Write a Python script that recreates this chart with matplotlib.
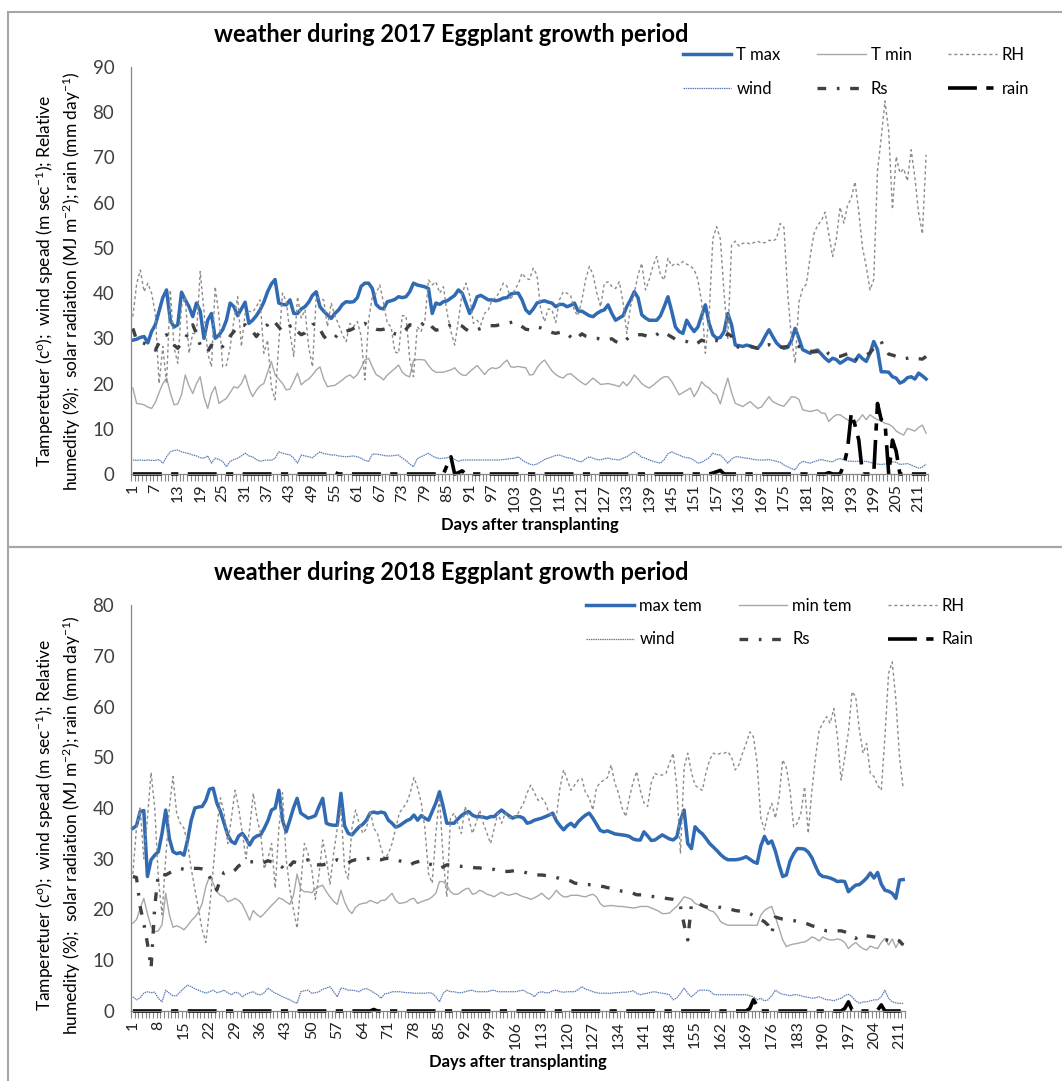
import numpy as np
import matplotlib
matplotlib.use("Agg")
import matplotlib.pyplot as plt
from matplotlib.patches import Rectangle
from matplotlib.lines import Line2D

plt.rcParams['font.family'] = ['Lato', 'DejaVu Sans']
plt.rcParams['mathtext.fontset'] = 'custom'
plt.rcParams['mathtext.rm'] = 'Lato'
plt.rcParams['mathtext.default'] = 'regular'

# ---------------- 2017 season (213 days) ----------------
TMAX_2017 = [
    29.6, 29.8, 30.2, 30.4, 29.0, 31.5, 33.0, 36.0, 39.0, 40.7,
    34.0, 32.5, 33.0, 40.2, 38.5, 37.0, 34.8, 37.8, 36.0, 30.0,
    34.0, 35.5, 30.0, 30.7, 31.9, 34.0, 37.8, 37.0, 35.0, 36.5,
    38.0, 33.3, 34.0, 35.0, 36.3, 38.0, 40.3, 42.0, 43.0, 37.8,
    37.5, 37.4, 38.5, 35.5, 35.5, 36.5, 37.0, 38.0, 39.5, 40.3,
    37.0, 36.0, 35.2, 34.4, 35.5, 36.3, 37.5, 38.1, 38.0, 38.1,
    39.0, 41.5, 42.2, 42.2, 41.0, 37.5, 36.7, 36.5, 38.1, 38.3,
    38.6, 39.2, 39.0, 39.2, 40.3, 42.2, 41.8, 41.6, 41.4, 41.0,
    35.5, 37.8, 37.5, 38.1, 38.3, 38.9, 39.5, 40.7, 40.0, 37.8,
    35.5, 37.0, 39.2, 39.5, 39.0, 38.5, 38.5, 38.3, 38.5, 38.9,
    39.0, 39.8, 40.0, 40.0, 38.5, 36.3, 35.5, 36.5, 37.8, 38.1,
    38.3, 38.0, 37.8, 37.0, 37.5, 37.5, 37.0, 37.3, 37.8, 36.0,
    36.0, 35.5, 35.0, 34.8, 35.5, 36.0, 36.3, 37.4, 35.5, 34.0,
    34.5, 35.0, 37.0, 38.5, 40.3, 39.0, 35.2, 34.5, 34.0, 34.0,
    34.0, 35.0, 37.0, 39.2, 36.0, 32.5, 31.5, 31.1, 34.0, 32.6,
    31.5, 32.5, 35.0, 37.4, 33.3, 30.8, 30.0, 30.2, 31.5, 35.5,
    33.0, 28.5, 28.4, 28.2, 28.5, 28.3, 28.0, 27.8, 28.9, 30.5,
    31.9, 30.4, 29.0, 28.2, 27.8, 28.0, 29.5, 32.2, 30.0, 27.5,
    27.1, 26.7, 27.2, 27.4, 26.5, 25.6, 24.9, 25.6, 25.3, 24.5,
    25.0, 25.6, 25.3, 24.9, 26.3, 25.5, 24.9, 26.7, 29.3, 27.5,
    22.6, 22.6, 22.5, 21.5, 21.2, 20.1, 20.5, 21.3, 21.5, 21.0,
    22.3, 21.7, 21.0,
]
TMIN_2017 = [
    19.0, 15.6, 15.5, 15.3, 14.8, 14.5, 15.8, 18.0, 20.0, 21.2,
    18.0, 15.3, 15.5, 17.5, 21.9, 19.5, 17.8, 20.0, 21.5, 17.0,
    14.5, 17.8, 19.3, 15.6, 16.2, 16.7, 18.0, 19.3, 19.0, 20.0,
    21.9, 19.0, 17.1, 18.5, 19.5, 20.0, 22.5, 24.9, 21.9, 21.0,
    20.0, 18.6, 18.8, 20.5, 22.3, 19.7, 20.5, 21.0, 21.9, 23.0,
    23.7, 21.0, 19.3, 19.5, 19.6, 20.2, 20.8, 21.5, 21.9, 21.2,
    22.0, 23.5, 25.2, 25.6, 23.7, 22.0, 21.5, 20.8, 21.9, 22.6,
    23.3, 24.1, 22.5, 21.8, 21.5, 25.2, 25.3, 25.3, 25.2, 24.0,
    23.0, 22.5, 22.5, 22.5, 22.8, 23.0, 23.5, 22.5, 21.9, 21.8,
    22.6, 23.3, 24.0, 23.0, 22.0, 23.0, 23.5, 23.3, 23.6, 24.5,
    25.2, 23.7, 23.6, 23.8, 23.6, 23.5, 21.9, 22.0, 23.5, 24.5,
    25.2, 24.0, 22.8, 22.0, 21.5, 21.2, 22.0, 22.2, 21.5, 20.8,
    20.2, 19.7, 20.5, 21.2, 20.5, 19.8, 19.9, 20.0, 19.8, 19.6,
    19.3, 20.4, 19.5, 20.5, 21.9, 21.0, 20.0, 19.4, 19.0, 19.6,
    20.3, 21.0, 21.5, 21.5, 20.5, 19.0, 17.5, 18.0, 18.5, 19.0,
    17.1, 18.5, 20.4, 19.5, 19.0, 18.0, 17.5, 15.5, 18.5, 21.2,
    18.0, 15.6, 15.3, 14.9, 15.5, 16.0, 15.2, 14.5, 14.8, 16.0,
    17.1, 16.0, 15.6, 15.2, 15.0, 16.0, 17.1, 17.0, 16.5, 14.2,
    14.0, 13.8, 14.0, 14.2, 13.5, 13.4, 11.6, 12.5, 13.1, 13.1,
    12.5, 12.0, 11.5, 11.2, 12.0, 13.1, 12.0, 13.1, 12.5, 12.0,
    11.8, 11.2, 11.0, 10.5, 9.5, 9.0, 8.6, 10.1, 9.8, 9.5,
    10.3, 10.8, 9.0,
]
RH_2017 = [
    34.8, 42.0, 45.1, 40.3, 42.2, 40.0, 35.5, 20.0, 28.2, 20.0,
    40.7, 28.0, 24.5, 37.0, 39.2, 26.7, 31.1, 31.0, 44.8, 36.0,
    26.7, 23.7, 41.4, 35.0, 23.7, 24.0, 28.0, 34.0, 39.2, 28.2,
    35.5, 36.0, 35.8, 37.0, 38.5, 26.7, 29.6, 19.3, 16.4, 29.0,
    40.0, 38.2, 31.0, 26.0, 39.2, 34.5, 36.3, 28.0, 23.7, 39.2,
    38.8, 38.5, 32.6, 37.8, 35.0, 33.0, 30.8, 29.3, 33.3, 32.6,
    33.7, 30.5, 20.8, 34.0, 39.2, 40.0, 41.8, 37.8, 33.3, 32.6,
    27.0, 26.7, 35.0, 35.0, 25.2, 21.5, 32.6, 31.5, 33.7, 42.9,
    41.8, 42.5, 40.0, 41.4, 35.5, 31.5, 28.5, 34.0, 40.0, 42.2,
    39.5, 33.3, 34.0, 33.0, 35.5, 36.3, 38.5, 39.0, 40.3, 42.2,
    41.5, 38.5, 40.7, 42.0, 44.4, 43.3, 43.0, 45.5, 44.0, 36.3,
    33.7, 36.5, 36.3, 33.5, 38.5, 40.3, 40.0, 39.5, 36.0, 35.0,
    38.5, 43.0, 45.9, 44.0, 40.0, 37.0, 42.2, 42.5, 41.5, 41.0,
    42.5, 38.0, 31.1, 37.0, 40.0, 44.0, 46.6, 40.7, 43.0, 46.0,
    48.1, 44.0, 42.9, 47.7, 46.0, 46.6, 46.2, 47.0, 46.4, 46.0,
    45.2, 43.0, 38.0, 26.7, 35.0, 52.0, 54.7, 52.0, 40.0, 30.0,
    50.6, 51.5, 50.4, 51.0, 51.2, 50.8, 51.2, 51.5, 51.0, 51.2,
    51.7, 51.5, 52.0, 55.4, 54.5, 40.0, 30.0, 24.5, 38.0, 41.0,
    42.0, 48.0, 53.1, 55.0, 56.0, 57.9, 53.0, 48.1, 52.0, 59.0,
    55.5, 59.4, 61.0, 64.6, 58.0, 50.0, 45.9, 40.7, 43.0, 67.0,
    74.4, 82.5, 75.7, 58.5, 70.2, 66.6, 67.5, 64.8, 71.7, 65.5,
    57.7, 53.1, 70.6,
]
WIND_2017 = [
    3.1, 3.0, 3.1, 3.0, 3.1, 3.0, 3.0, 3.2, 2.4, 3.8,
    4.9, 5.2, 5.3, 4.9, 4.7, 4.5, 4.2, 4.0, 3.6, 3.5,
    4.0, 2.4, 3.5, 3.2, 2.8, 1.6, 2.8, 3.2, 3.5, 4.0,
    4.6, 4.0, 3.8, 3.2, 2.8, 3.0, 3.1, 3.0, 3.5, 4.9,
    4.6, 4.4, 4.2, 3.5, 2.4, 4.2, 4.0, 3.8, 3.6, 4.3,
    4.9, 4.5, 4.4, 4.2, 4.2, 4.0, 3.9, 3.8, 3.9, 4.0,
    3.8, 3.5, 3.0, 2.8, 4.4, 4.4, 4.3, 4.1, 4.0, 4.0,
    4.1, 4.2, 3.5, 3.0, 2.2, 1.6, 3.4, 3.8, 4.2, 4.6,
    4.0, 3.6, 3.4, 3.5, 3.6, 3.8, 3.2, 2.8, 3.1, 3.1,
    3.1, 3.1, 3.1, 3.1, 3.1, 3.1, 3.1, 3.1, 3.1, 3.2,
    3.3, 3.4, 3.5, 3.8, 3.1, 2.6, 2.2, 2.0, 2.2, 2.7,
    3.2, 3.5, 3.8, 4.1, 4.2, 3.9, 3.6, 3.5, 3.2, 2.8,
    2.7, 3.4, 3.8, 3.5, 3.2, 3.1, 3.4, 3.5, 3.3, 3.2,
    3.1, 3.5, 3.8, 4.4, 4.9, 4.4, 3.7, 3.5, 3.1, 2.8,
    2.6, 2.4, 3.2, 4.5, 4.9, 4.5, 4.2, 3.8, 3.6, 3.5,
    3.0, 2.4, 2.6, 3.1, 3.6, 4.6, 4.3, 4.2, 3.4, 2.4,
    3.3, 3.8, 3.8, 3.6, 3.5, 3.4, 3.2, 3.1, 3.1, 3.1,
    3.2, 3.0, 2.8, 2.6, 2.0, 1.6, 1.2, 0.9, 2.2, 2.8,
    2.6, 2.4, 2.7, 3.0, 3.2, 3.0, 2.8, 2.7, 3.2, 3.4,
    3.1, 2.9, 2.8, 2.8, 2.8, 2.8, 2.8, 2.6, 2.3, 2.2,
    2.1, 2.2, 2.4, 2.7, 2.6, 2.1, 2.2, 2.3, 2.0, 1.6,
    1.3, 1.5, 2.2,
]
RS_2017 = [
    32.2, 29.6, 29.2, 28.9, 28.5, 28.0, 27.4, 29.0, 29.6, 30.8,
    29.5, 28.5, 27.8, 29.0, 30.0, 31.5, 33.0, 31.0, 28.5, 27.5,
    27.1, 28.5, 28.0, 27.5, 28.2, 28.9, 30.5, 31.5, 32.6, 32.8,
    33.0, 32.0, 31.5, 30.4, 31.5, 32.5, 33.0, 34.1, 33.5, 32.5,
    31.5, 32.0, 32.7, 33.0, 31.5, 30.8, 31.2, 32.0, 33.0, 33.3,
    32.0, 30.5, 29.6, 29.8, 30.2, 31.0, 31.4, 31.6, 31.8, 32.2,
    32.6, 33.0, 33.3, 32.8, 32.3, 32.0, 31.9, 32.0, 32.2, 31.5,
    31.0, 30.8, 31.4, 32.0, 33.0, 33.0, 32.6, 33.0, 33.5, 33.7,
    32.5, 31.8, 32.0, 32.2, 32.6, 33.0, 33.3, 33.0, 32.7, 32.0,
    31.5, 31.6, 31.9, 32.2, 32.6, 32.8, 32.8, 32.8, 33.0, 33.2,
    33.3, 33.5, 33.7, 33.2, 32.6, 32.0, 31.9, 32.3, 32.6, 32.3,
    32.0, 31.6, 31.3, 31.1, 31.3, 31.5, 31.0, 30.3, 29.6, 30.3,
    31.0, 30.5, 30.3, 30.0, 30.0, 29.8, 29.6, 29.8, 29.9, 29.3,
    29.0, 28.9, 29.8, 30.5, 30.8, 30.8, 30.8, 30.6, 30.3, 30.2,
    30.8, 31.5, 31.3, 30.8, 30.3, 29.8, 29.6, 29.5, 29.3, 28.9,
    28.5, 29.0, 29.6, 29.3, 29.3, 29.6, 29.5, 29.3, 29.8, 31.0,
    30.5, 28.3, 28.0, 27.8, 28.0, 28.2, 28.0, 27.8, 28.4, 28.5,
    28.6, 28.2, 27.8, 28.0, 28.1, 28.2, 28.6, 28.9, 28.2, 27.8,
    27.5, 27.2, 27.0, 27.1, 27.2, 27.6, 26.5, 26.0, 26.0, 26.0,
    26.3, 26.6, 25.5, 25.2, 25.8, 26.1, 26.3, 26.8, 27.8, 28.5,
    29.3, 27.5, 26.5, 26.3, 26.0, 25.6, 25.5, 25.6, 25.8, 25.8,
    25.5, 25.4, 26.0,
]
RAIN_2017 = [
    0, 0, 0, 0, 0, 0, 0, 0, 0, 0,
    0, 0, 0, 0, 0, 0, 0, 0, 0, 0,
    0, 0, 0, 0, 0, 0, 0, 0, 0, 0,
    0, 0, 0, 0, 0, 0, 0, 0, 0, 0,
    0, 0, 0, 0, 0, 0, 0, 0, 0, 0,
    0, 0, 0, 0, 0.3, 0, 0, 0, 0, 0,
    0, 0, 0, 0, 0, 0, 0, 0, 0, 0,
    0, 0, 0, 0, 0, 0, 0, 0, 0, 0,
    0, 0, 0, 0, 2.0, 3.8, 0, 0.3, 0.7, 0,
    0, 0, 0, 0, 0, 0, 0, 0, 0, 0,
    0, 0, 0, 0, 0, 0, 0, 0, 0, 0,
    0, 0, 0, 0, 0, 0, 0, 0, 0, 0,
    0, 0, 0, 0, 0, 0, 0, 0, 0, 0,
    0, 0, 0, 0, 0, 0, 0, 0, 0, 0,
    0, 0, 0, 0, 0, 0, 0, 0, 0, 0,
    0, 0, 0, 0, 0, 0.2, 0.5, 0.8, 0, 0,
    0, 0, 0, 0, 0, 0, 0, 0, 0, 0,
    0, 0, 0, 0, 0, 0, 0, 0, 0, 0,
    0, 0, 0, 0, 0, 0, 0.3, 0, 0, 0,
    2.0, 5.5, 13.5, 10.8, 7.5, 0, 0, 0, 0, 15.6,
    12.0, 11.5, 0, 7.5, 5.0, 0, 0, 0, 0, 0,
    0, 0, 0,
]

# ---------------- 2018 season (212 days) ----------------
TMAX_2018 = [
    36.0, 36.5, 39.3, 39.5, 26.5, 29.8, 30.7, 31.4, 35.0, 39.6,
    34.0, 31.4, 31.0, 31.2, 30.7, 33.7, 37.6, 40.0, 40.2, 40.3,
    41.5, 43.7, 43.9, 41.0, 39.3, 37.0, 34.7, 33.4, 33.0, 34.5,
    35.0, 34.0, 32.7, 34.0, 34.5, 34.7, 36.0, 37.5, 39.6, 40.0,
    43.5, 37.6, 35.3, 37.6, 40.0, 41.9, 39.0, 38.5, 38.0, 38.2,
    38.5, 40.3, 41.9, 37.0, 36.7, 36.6, 36.6, 42.9, 36.5, 35.0,
    34.7, 35.5, 36.3, 36.8, 37.6, 39.0, 39.2, 39.0, 39.2, 39.0,
    37.6, 37.0, 36.2, 36.5, 37.0, 37.5, 37.8, 38.6, 37.6, 38.5,
    38.0, 37.6, 39.3, 41.0, 43.2, 40.3, 37.0, 37.0, 37.0, 37.8,
    38.5, 39.0, 39.3, 38.6, 38.3, 38.3, 38.2, 38.0, 38.3, 38.3,
    39.0, 39.6, 39.0, 38.5, 38.0, 38.3, 38.3, 38.0, 37.0, 37.2,
    37.6, 37.8, 38.0, 38.3, 38.6, 39.0, 37.5, 36.5, 35.7, 36.5,
    37.0, 36.3, 37.3, 38.0, 38.6, 39.0, 38.0, 36.8, 35.6, 35.3,
    35.5, 35.2, 34.9, 34.8, 34.7, 34.6, 34.4, 33.9, 33.7, 33.7,
    35.3, 34.5, 33.6, 33.7, 34.2, 34.7, 34.3, 33.9, 33.7, 34.3,
    37.6, 39.6, 33.0, 32.0, 36.3, 35.5, 34.9, 34.0, 33.0, 32.3,
    31.6, 30.8, 30.2, 29.8, 29.8, 29.8, 29.9, 30.1, 30.4, 29.9,
    29.4, 29.1, 32.5, 34.4, 33.0, 33.5, 31.5, 28.8, 26.5, 26.8,
    29.5, 31.0, 32.0, 32.0, 31.9, 31.3, 30.2, 28.5, 27.0, 26.5,
    26.4, 26.2, 25.9, 25.5, 25.6, 25.5, 23.5, 24.2, 24.8, 24.9,
    25.5, 26.2, 27.2, 26.2, 27.3, 25.0, 23.8, 23.6, 23.2, 22.2,
    25.8, 25.9,
]
TMIN_2018 = [
    17.3, 18.0, 20.2, 22.2, 19.2, 16.6, 15.6, 15.8, 17.0, 23.2,
    19.0, 16.5, 16.8, 16.5, 16.0, 16.8, 17.8, 18.5, 19.5, 21.2,
    24.5, 26.5, 25.2, 23.5, 22.8, 22.5, 21.5, 21.8, 22.2, 21.8,
    21.0, 19.5, 17.9, 19.8, 19.0, 18.5, 19.2, 20.0, 20.8, 21.5,
    22.3, 22.0, 21.5, 21.0, 22.8, 27.0, 24.0, 23.5, 23.5, 23.3,
    24.0, 24.5, 24.8, 23.5, 22.5, 21.6, 21.0, 23.8, 21.5, 20.0,
    19.2, 20.4, 21.0, 21.2, 21.3, 21.8, 21.5, 21.2, 21.8, 21.8,
    22.5, 23.2, 21.8, 21.2, 21.3, 21.5, 22.0, 22.2, 21.2, 21.5,
    21.8, 22.0, 22.5, 23.2, 25.5, 25.5, 24.8, 23.5, 23.0, 23.0,
    23.5, 24.0, 24.2, 23.0, 23.2, 23.8, 23.5, 23.0, 22.8, 22.5,
    23.0, 23.4, 23.0, 22.8, 23.0, 23.2, 22.8, 22.5, 22.3, 22.0,
    22.3, 22.7, 23.2, 22.5, 22.0, 22.8, 23.8, 23.0, 22.5, 22.5,
    22.8, 22.8, 22.8, 22.6, 22.5, 22.8, 23.0, 22.5, 21.2, 20.6,
    20.7, 20.8, 20.7, 20.6, 20.6, 20.5, 20.4, 20.3, 20.4, 20.6,
    20.6, 20.6, 20.3, 20.0, 19.7, 19.2, 19.2, 19.3, 20.0, 20.6,
    21.5, 22.5, 22.3, 22.0, 21.2, 20.9, 20.6, 20.3, 19.8, 19.6,
    18.8, 17.6, 17.2, 16.9, 16.9, 16.9, 16.9, 16.9, 16.9, 16.9,
    16.9, 16.9, 18.9, 19.8, 20.3, 20.6, 18.5, 16.3, 14.0, 12.7,
    13.0, 13.2, 13.3, 13.5, 13.6, 14.0, 14.6, 14.3, 13.8, 14.6,
    14.2, 14.0, 14.0, 14.2, 14.0, 13.5, 12.3, 13.0, 13.5, 12.8,
    12.3, 12.0, 12.8, 12.5, 12.3, 13.5, 14.3, 13.0, 14.2, 12.5,
    13.8, 13.0,
]
RH_2018 = [
    27.0, 36.0, 40.0, 30.0, 38.0, 47.0, 40.0, 26.0, 19.0, 30.0,
    40.0, 46.2, 39.0, 37.0, 36.0, 33.0, 28.0, 24.0, 20.0, 16.0,
    13.5, 20.0, 28.0, 36.0, 42.0, 39.0, 33.0, 38.0, 43.5, 40.0,
    35.0, 30.0, 36.0, 42.9, 38.0, 35.0, 28.0, 30.0, 33.0, 24.2,
    36.0, 43.0, 30.0, 24.0, 20.0, 16.3, 25.0, 33.0, 31.0, 28.0,
    22.0, 27.0, 33.7, 30.0, 25.0, 31.0, 36.0, 40.0, 28.0, 26.0,
    36.0, 39.6, 37.0, 35.0, 36.0, 39.5, 36.0, 35.0, 32.0, 30.0,
    31.0, 33.0, 36.0, 39.0, 40.0, 41.0, 43.0, 46.0, 44.0, 41.0,
    36.0, 27.0, 25.2, 35.0, 42.2, 30.0, 22.5, 38.0, 39.0, 37.0,
    35.0, 40.3, 38.0, 35.0, 37.0, 39.6, 37.0, 35.0, 33.0, 36.0,
    39.0, 37.0, 39.0, 38.0, 38.5, 38.3, 39.6, 40.9, 43.0, 44.5,
    43.0, 41.5, 42.0, 41.0, 39.0, 38.5, 38.3, 44.0, 47.5, 45.5,
    43.5, 44.5, 45.5, 45.8, 43.0, 42.0, 39.6, 44.0, 45.0, 45.5,
    46.0, 48.5, 45.0, 43.0, 40.0, 38.3, 42.0, 45.0, 47.2, 43.5,
    41.0, 40.3, 45.0, 46.8, 46.5, 46.5, 46.8, 48.8, 50.8, 44.0,
    31.0, 48.0, 50.8, 47.0, 44.5, 43.9, 43.5, 47.0, 49.5, 50.8,
    50.5, 50.8, 50.8, 51.1, 50.0, 47.5, 48.5, 50.8, 52.7, 55.0,
    54.0, 48.8, 38.0, 35.7, 39.0, 40.9, 38.0, 42.0, 49.5, 48.0,
    43.5, 36.3, 37.0, 39.0, 44.2, 35.0, 43.5, 50.0, 55.4, 56.7,
    58.0, 56.7, 59.6, 54.0, 45.5, 50.0, 55.0, 62.9, 61.9, 55.4,
    50.8, 52.7, 46.8, 46.2, 44.5, 43.5, 54.0, 66.5, 68.8, 61.3,
    50.0, 43.9,
]
WIND_2018 = [
    2.8, 2.2, 2.6, 3.5, 3.8, 3.6, 3.7, 2.5, 1.8, 4.1,
    3.5, 3.0, 3.0, 3.8, 4.5, 5.1, 4.8, 4.4, 4.1, 3.8,
    3.5, 3.8, 4.1, 3.6, 3.8, 4.1, 3.6, 3.2, 3.7, 3.5,
    2.8, 3.3, 3.6, 3.8, 3.3, 3.2, 3.6, 4.5, 4.0, 3.5,
    3.2, 2.8, 2.5, 2.2, 1.8, 1.5, 3.8, 4.0, 4.1, 3.5,
    3.6, 3.8, 4.3, 4.5, 4.8, 3.8, 2.8, 4.5, 4.4, 4.1,
    4.1, 4.0, 3.8, 4.3, 4.4, 4.1, 3.6, 3.2, 2.5, 3.4,
    3.5, 3.8, 3.8, 3.8, 3.7, 3.6, 3.6, 3.5, 3.5, 3.5,
    3.5, 3.6, 3.5, 2.8, 1.8, 3.5, 4.1, 3.8, 3.8, 3.6,
    3.6, 3.8, 4.0, 4.1, 3.8, 3.8, 3.8, 3.8, 4.0, 4.1,
    3.8, 3.8, 3.8, 3.8, 3.8, 3.8, 4.0, 4.1, 3.6, 3.4,
    2.8, 3.6, 3.8, 3.6, 3.6, 4.0, 4.1, 3.8, 3.7, 3.8,
    3.8, 3.8, 4.2, 4.8, 4.3, 4.1, 3.8, 3.6, 3.5, 3.5,
    3.5, 3.5, 3.6, 3.6, 3.7, 3.7, 3.8, 4.0, 3.5, 3.2,
    3.4, 3.5, 3.7, 3.8, 3.6, 3.5, 3.4, 3.2, 2.2, 2.6,
    3.5, 4.5, 3.5, 2.8, 3.4, 4.1, 4.1, 4.1, 4.0, 3.3,
    3.2, 3.2, 3.2, 3.2, 3.2, 3.2, 3.2, 3.2, 3.2, 3.0,
    2.8, 2.2, 2.5, 2.0, 2.2, 3.0, 4.1, 3.6, 3.3, 3.2,
    3.0, 3.2, 3.2, 3.0, 2.8, 2.7, 2.5, 2.6, 2.8, 2.5,
    2.2, 2.2, 2.0, 2.3, 2.5, 3.0, 3.3, 2.8, 2.0, 1.5,
    1.8, 1.8, 2.0, 2.2, 2.2, 2.8, 4.1, 2.5, 1.8, 1.6,
    1.5, 1.5,
]
RS_2018 = [
    26.5, 26.3, 20.6, 17.3, 13.3, 8.4, 20.6, 27.1, 27.0, 26.8,
    27.2, 27.5, 27.8, 28.1, 27.9, 27.8, 28.1, 28.1, 28.1, 28.0,
    27.8, 26.5, 25.2, 23.8, 26.0, 27.3, 27.5, 27.3, 27.8, 28.6,
    29.0, 29.4, 29.4, 29.4, 29.2, 29.1, 29.3, 29.6, 29.4, 29.2,
    28.8, 28.3, 27.5, 28.6, 29.4, 29.2, 29.3, 29.5, 29.8, 29.8,
    28.8, 28.8, 28.8, 29.0, 29.2, 29.5, 29.8, 29.5, 29.3, 29.2,
    29.6, 29.8, 29.8, 29.9, 30.0, 30.1, 30.1, 29.9, 29.8, 30.0,
    30.1, 30.0, 29.9, 29.6, 29.4, 29.1, 28.8, 29.2, 29.4, 29.6,
    29.3, 29.0, 28.8, 28.6, 28.1, 28.4, 28.8, 28.8, 28.8, 28.6,
    28.5, 28.5, 28.4, 28.3, 28.2, 28.2, 28.0, 27.9, 27.9, 27.9,
    27.7, 27.5, 27.5, 27.5, 27.6, 27.7, 27.5, 27.4, 27.2, 27.0,
    26.8, 26.8, 26.8, 26.7, 26.6, 26.5, 26.3, 26.1, 26.0, 25.9,
    25.6, 25.2, 25.1, 25.0, 24.9, 24.9, 24.8, 24.8, 24.6, 24.5,
    24.3, 24.2, 24.0, 23.8, 23.6, 23.5, 23.5, 23.2, 22.9, 22.9,
    22.9, 22.8, 22.6, 22.5, 22.4, 22.3, 22.2, 22.1, 22.0, 21.8,
    20.6, 17.0, 14.0, 21.0, 21.2, 21.2, 20.8, 20.5, 20.6, 20.6,
    20.5, 20.4, 20.2, 20.2, 20.0, 19.8, 19.7, 19.6, 19.5, 19.2,
    18.8, 18.3, 18.0, 17.6, 16.9, 15.3, 18.5, 18.3, 18.1, 18.0,
    17.9, 17.8, 17.7, 17.6, 17.4, 17.1, 16.8, 16.6, 16.3, 16.0,
    15.8, 15.8, 15.8, 15.8, 15.8, 15.6, 15.3, 14.8, 14.3, 15.0,
    15.0, 14.8, 14.7, 14.6, 14.4, 14.3, 14.1, 13.9, 14.3, 14.2,
    13.8, 13.0,
]
RAIN_2018 = [
    0, 0, 0, 0, 0, 0, 0, 0, 0, 0,
    0, 0, 0, 0, 0, 0, 0, 0, 0, 0,
    0, 0, 0, 0, 0, 0, 0, 0, 0, 0,
    0, 0, 0, 0, 0, 0, 0, 0, 0, 0,
    0, 0, 0, 0, 0, 0, 0, 0, 0, 0,
    0, 0, 0, 0, 0, 0, 0, 0, 0, 0,
    0, 0, 0, 0, 0, 0, 0.3, 0, 0, 0,
    0, 0, 0, 0, 0, 0, 0, 0, 0, 0,
    0, 0, 0, 0, 0, 0, 0, 0, 0, 0,
    0, 0, 0, 0, 0, 0, 0, 0, 0, 0,
    0, 0, 0, 0, 0, 0, 0, 0, 0, 0,
    0, 0, 0, 0, 0, 0, 0, 0, 0, 0,
    0, 0, 0, 0, 0, 0, 0, 0, 0, 0,
    0, 0, 0, 0, 0, 0, 0, 0, 0, 0,
    0, 0, 0, 0, 0, 0, 0, 0, 0, 0,
    0, 0, 0, 0, 0, 0, 0, 0, 0, 0,
    0, 0, 0, 0, 0, 0, 0, 0, 0, 0.5,
    2.2, 1.0, 0, 0, 0, 0, 0, 0, 0, 0,
    0, 0, 0, 0, 0, 0, 0, 0, 0, 0,
    0, 0, 0, 0, 0, 0.5, 1.8, 0.2, 0, 0,
    0, 0, 0, 0, 0.2, 1.2, 0, 0, 0, 0,
    0, 0,
]

NAMES_2017 = ["T max", "T min", "RH", "wind", "Rs", "rain"]
NAMES_2018 = ["max tem", "min tem", "RH", "wind", "Rs", "Rain"]
TITLE_2017 = "weather during 2017 Eggplant growth period"
TITLE_2018 = "weather during 2018 Eggplant growth period"
YLABEL = ("Tamperetuer (c$^{o}$);  wind spead (m sec$^{-1}$); Relative\n"
          "humedity (%);  solar radiation (MJ m$^{-2}$); rain (mm day$^{-1}$)")
XLABEL = "Days after transplanting"

for arr in (TMIN_2017, RH_2017, WIND_2017, RS_2017, RAIN_2017):
    assert len(arr) == len(TMAX_2017), len(arr)
for arr in (TMIN_2018, RH_2018, WIND_2018, RS_2018, RAIN_2018):
    assert len(arr) == len(TMAX_2018), len(arr)

# line styles (Excel look)
STYLES = [
    dict(color="#2f6ab2", lw=2.5, ls="-"),                       # Tmax
    dict(color="#a8a8a8", lw=1.0, ls="-"),                       # Tmin
    dict(color="#8c8c8c", lw=1.0, ls=(0, (2.2, 2.0))),           # RH
    dict(color="#5b7db3", lw=0.9, ls=(0, (1.2, 0.6))),           # wind
    dict(color="#404040", lw=2.4, ls=(0, (2.6, 3.2, 0.8, 3.2))),  # Rs
    dict(color="#000000", lw=2.6, ls=(0, (8, 2.6, 2.0, 2.6))),   # rain
]
AXIS_GRAY = "#868686"


def draw_panel(ax, series, ymax, step):
    n = len(series[0])
    days = np.arange(1, n + 1)
    for vals, st in zip(series, STYLES):
        ax.plot(days, vals, color=st["color"], lw=st["lw"], linestyle=st["ls"],
                clip_on=False)

    ax.set_xlim(0.5, n + 0.5)
    ax.set_ylim(0, ymax)
    ax.set_yticks(np.arange(0, ymax + 1, 10))
    ax.tick_params(axis="y", length=0, pad=12, labelsize=13.5, labelcolor="#404040")

    lab_days = np.arange(1, n + 1, step)
    ax.set_xticks(lab_days)
    ax.set_xticklabels([str(d) for d in lab_days], rotation=90, fontsize=11.5)
    ax.set_xticks(np.arange(0.5, n + 1, 1), minor=True)
    ax.tick_params(axis="x", which="major", length=0, pad=7, labelcolor="#202020")
    ax.tick_params(axis="x", which="minor", length=5, width=0.8, color=AXIS_GRAY)

    for s in ("top", "right"):
        ax.spines[s].set_visible(False)
    for s in ("left", "bottom"):
        ax.spines[s].set_color(AXIS_GRAY)
        ax.spines[s].set_linewidth(0.9)
    ax.set_xlabel(XLABEL, fontsize=12, fontweight="bold", labelpad=4)


def legend_for(fig, names, x, y):
    handles = [Line2D([], [], color=st["color"], lw=st["lw"], linestyle=st["ls"])
               for st in STYLES]
    order = [0, 3, 1, 4, 2, 5]
    fig.legend([handles[i] for i in order], [names[i] for i in order],
               loc="upper left", bbox_to_anchor=(x, y), ncol=3, frameon=False,
               fontsize=12, handlelength=2.9, handletextpad=0.3,
               columnspacing=2.2, labelspacing=1.05, borderaxespad=0, borderpad=0)


W, H = 1062, 1081
fig = plt.figure(figsize=(W / 100, H / 100), dpi=100)

# panel frames
fig.add_artist(Rectangle((8 / W, 1 - 547 / H), 1.0, (547 - 12) / H,
                         transform=fig.transFigure, fill=False,
                         edgecolor="#a6a6a6", lw=1.5))
fig.add_artist(Rectangle((8 / W, -0.01), 1.0, 1 - 547 / H + 0.01,
                         transform=fig.transFigure, fill=False,
                         edgecolor="#a6a6a6", lw=1.5))

ax1 = fig.add_axes([131 / W, 1 - 474 / H, 797 / W, 407 / H])
draw_panel(ax1, [TMAX_2017, TMIN_2017, RH_2017, WIND_2017, RS_2017, RAIN_2017], 90, 6)
ax2 = fig.add_axes([131 / W, 1 - 1011 / H, 774 / W, 406 / H])
draw_panel(ax2, [TMAX_2018, TMIN_2018, RH_2018, WIND_2018, RS_2018, RAIN_2018], 80, 7)

fig.text(451 / W, 1 - 35 / H, TITLE_2017, ha="center", va="center",
         fontsize=17, fontweight="bold")
fig.text(451 / W, 1 - 572 / H, TITLE_2018, ha="center", va="center",
         fontsize=17, fontweight="bold")

fig.text(58 / W, 1 - 281 / H, YLABEL, rotation=90, ha="center", va="center",
         multialignment="center", fontsize=12.5, linespacing=1.25)
fig.text(58 / W, 1 - 825 / H, YLABEL, rotation=90, ha="center", va="center",
         multialignment="center", fontsize=12.5, linespacing=1.25)

legend_for(fig, NAMES_2017, 683 / W, 1 - 47 / H)
legend_for(fig, NAMES_2018, 586 / W, 1 - 598 / H)

fig.savefig("out.png", dpi=100)
